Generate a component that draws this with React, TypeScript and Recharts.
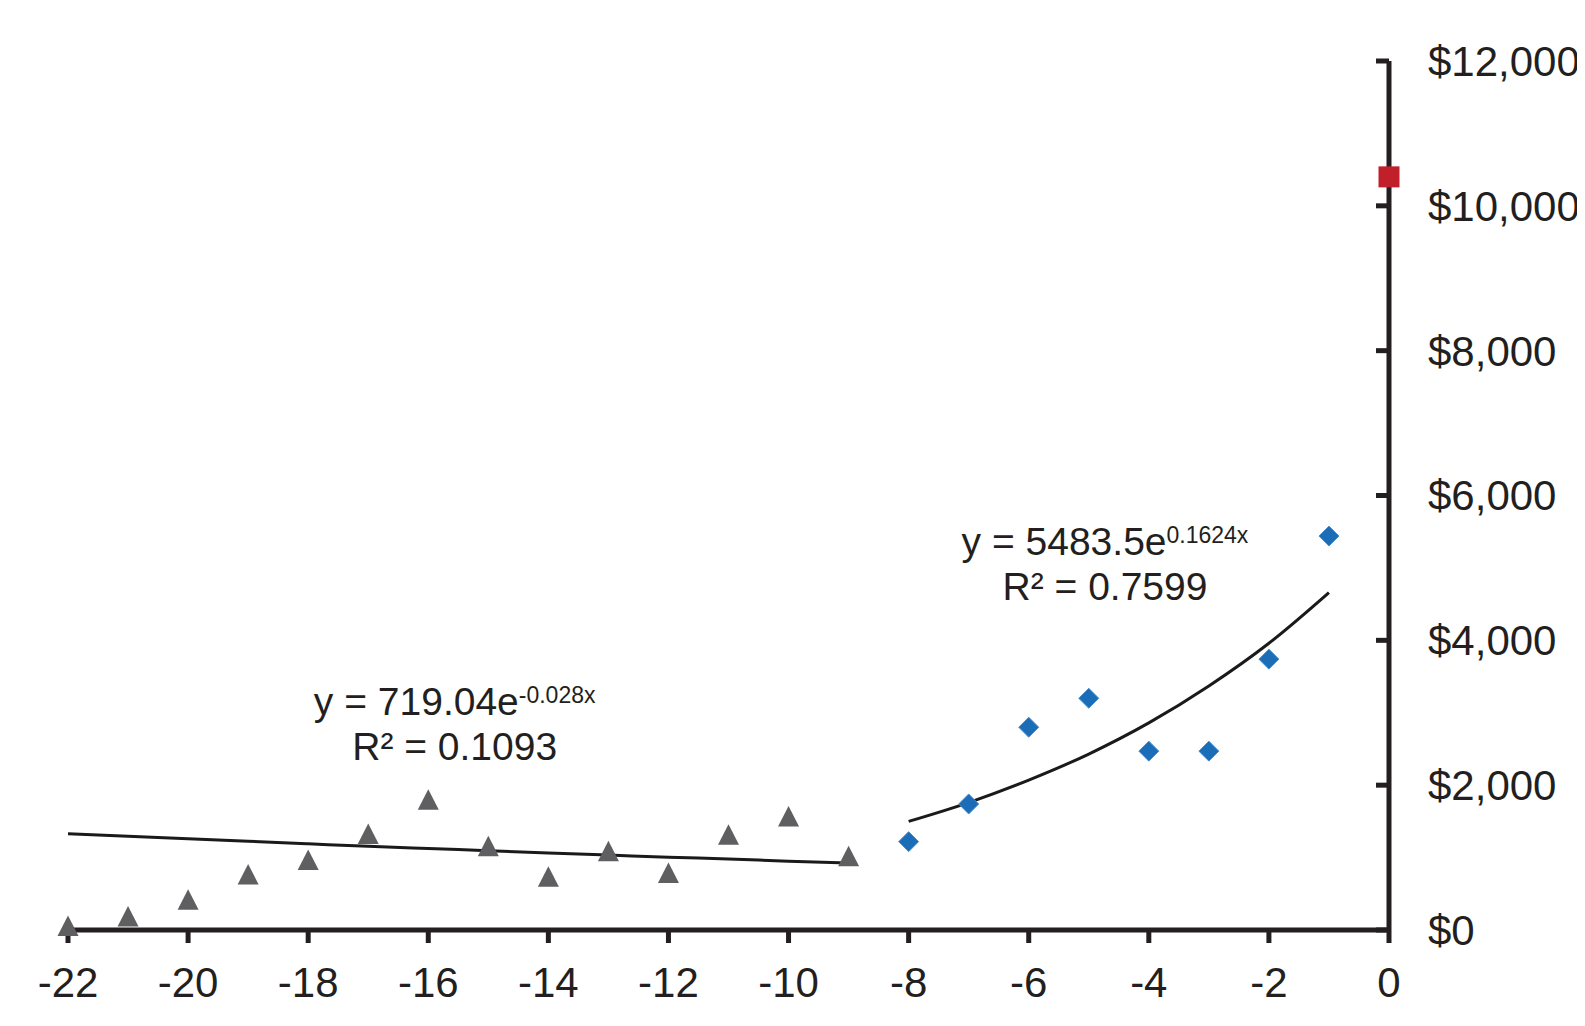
import { ComposedChart, Scatter, Line, XAxis, YAxis, ReferenceDot } from 'recharts';

const earlyYears = [-22, -21, -20, -19, -18, -17, -16, -15, -14, -13, -12, -11, -10, -9];
const earlyValues = [50, 180, 410, 760, 960, 1320, 1790, 1150, 730, 1080, 780, 1310, 1560, 1010];
const earlyTrend = [1330, 1295, 1260, 1225, 1190, 1155, 1125, 1095, 1065, 1035, 1005, 980, 950, 925];

const lateYears = [-8, -7, -6, -5, -4, -3, -2, -1];
const lateValues = [1220, 1740, 2800, 3200, 2470, 2470, 3740, 5440];
const lateTrend = [1500, 1760, 2070, 2430, 2860, 3370, 3960, 4660];

const currentYears = [0];
const currentValues = [10400];

const xTicks = [-22, -20, -18, -16, -14, -12, -10, -8, -6, -4, -2, 0];
const yTicks = [0, 2000, 4000, 6000, 8000, 10000, 12000];

const earlyEquation = ['y = 719.04e', '-0.028x', 'R² = 0.1093'];
const lateEquation = ['y = 5483.5e', '0.1624x', 'R² = 0.7599'];

const INK = '#231f20';
const FONT = '"Liberation Sans", Arial, Helvetica, sans-serif';

const earlyPoints = earlyYears.map((x, i) => ({ x, y: earlyValues[i] }));
const earlyLine = earlyYears.map((x, i) => ({ x, y: earlyTrend[i] }));
const latePoints = lateYears.map((x, i) => ({ x, y: lateValues[i] }));
const lateLine = lateYears.map((x, i) => ({ x, y: lateTrend[i] }));
const currentPoints = currentYears.map((x, i) => ({ x, y: currentValues[i] }));

const Triangle = (props: any) => {
  const { cx, cy } = props;
  return (
    <polygon
      points={`${cx},${cy - 11} ${cx - 10.5},${cy + 9.5} ${cx + 10.5},${cy + 9.5}`}
      fill="#5f5f61"
    />
  );
};

const Diamond = (props: any) => {
  const { cx, cy } = props;
  return (
    <polygon
      points={`${cx},${cy - 10} ${cx + 10},${cy} ${cx},${cy + 10} ${cx - 10},${cy}`}
      fill="#1b6db8"
      stroke="#4a8fd0"
      strokeWidth={1}
    />
  );
};

const Square = (props: any) => {
  const { cx, cy } = props;
  return <rect x={cx - 10.5} y={cy - 10.5} width={21} height={21} fill="#c1202a" />;
};

const RightTick = (props: any) => {
  const { x, y, payload } = props;
  return (
    <g>
      <line x1={x - 13} x2={x} y1={y} y2={y} stroke={INK} strokeWidth={5} />
      <text x={x + 39} y={y} dy="0.355em" fill={INK} fontSize={42} fontFamily={FONT} textAnchor="start">
        ${payload.value.toLocaleString('en-US')}
      </text>
    </g>
  );
};

const Equation = ({ cx, cy, lines }: any) => (
  <g fontFamily={FONT} fill={INK}>
    <text x={cx} y={cy} textAnchor="middle" fontSize={39}>
      <tspan>{lines[0]}</tspan>
      <tspan dy={-12} fontSize={23}>{lines[1]}</tspan>
    </text>
    <text x={cx} y={cy + 45} textAnchor="middle" fontSize={39}>
      {lines[2]}
    </text>
  </g>
);

export default function App() {
  return (
    <ComposedChart
      width={1577}
      height={1018}
      margin={{ top: 53, right: 46, bottom: 36, left: 60 }}
    >
      <XAxis
        type="number"
        dataKey="x"
        domain={[-22, 0]}
        ticks={xTicks}
        interval={0}
        height={60}
        axisLine={{ stroke: INK, strokeWidth: 5 }}
        tickLine={{ stroke: INK, strokeWidth: 5 }}
        tickSize={13}
        tickMargin={24}
        tick={{ fill: INK, fontSize: 42, fontFamily: FONT }}
      />
      <YAxis
        type="number"
        dataKey="y"
        orientation="right"
        domain={[0, 12000]}
        ticks={yTicks}
        interval={0}
        width={150}
        axisLine={{ stroke: INK, strokeWidth: 5 }}
        tickLine={false}
        tickSize={0}
        tickMargin={0}
        tick={<RightTick />}
      />
      <Scatter data={earlyPoints} dataKey="y" shape={<Triangle />} isAnimationActive={false} />
      <Scatter data={latePoints} dataKey="y" shape={<Diamond />} isAnimationActive={false} />
      <Scatter data={currentPoints} dataKey="y" shape={<Square />} isAnimationActive={false} />
      <Line
        data={earlyLine}
        dataKey="y"
        type="monotone"
        stroke="#1a1a1a"
        strokeWidth={3}
        dot={false}
        activeDot={false}
        isAnimationActive={false}
      />
      <Line
        data={lateLine}
        dataKey="y"
        type="monotone"
        stroke="#1a1a1a"
        strokeWidth={3}
        dot={false}
        activeDot={false}
        isAnimationActive={false}
      />
      <ReferenceDot
        x={-15.56}
        y={2970}
        r={0}
        shape={(p: any) => <Equation cx={p.cx} cy={p.cy} lines={earlyEquation} />}
      />
      <ReferenceDot
        x={-4.73}
        y={5180}
        r={0}
        shape={(p: any) => <Equation cx={p.cx} cy={p.cy} lines={lateEquation} />}
      />
    </ComposedChart>
  );
}
